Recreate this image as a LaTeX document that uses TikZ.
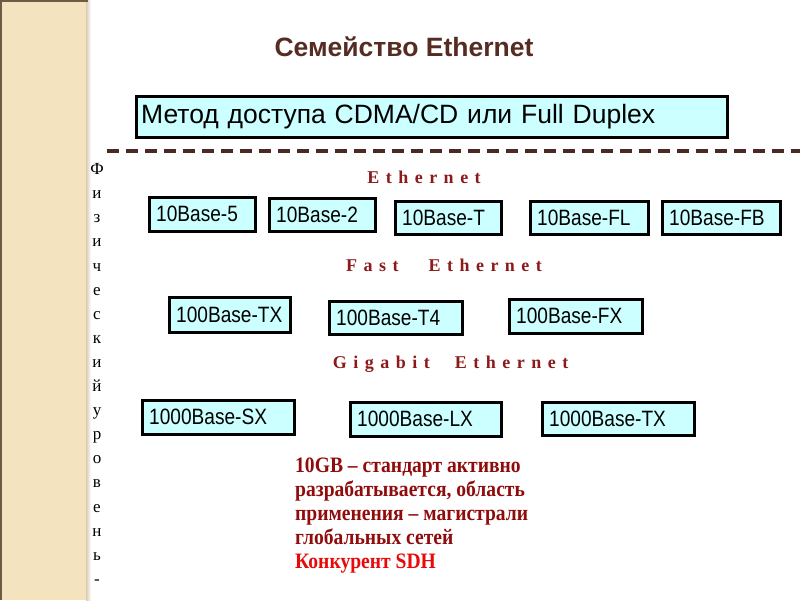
\documentclass[tikz,border=0pt]{standalone}
\usepackage{fontspec}
\setmainfont{Liberation Serif}
\setsansfont{Liberation Sans}
\newfontfamily\boxfont[FakeStretch=0.86]{Liberation Sans}
\newfontfamily\notefont[FakeStretch=0.89]{Liberation Serif}
\usetikzlibrary{calc}
\definecolor{boxcyan}{HTML}{CCFFFF}
\definecolor{titlebrown}{HTML}{552B22}
\definecolor{dashbrown}{HTML}{4A2A22}
\definecolor{headred}{HTML}{8C1A1A}
\definecolor{notered}{HTML}{900C0C}
\definecolor{brightred}{HTML}{E80A0A}
\definecolor{stripbeige}{HTML}{F3E3BF}
\definecolor{stripedge}{HTML}{6E5B45}
\definecolor{stripshade}{HTML}{D9CCB0}
\newcommand{\widespaced}[1]{{\spaceskip=6.5pt\relax #1}}
\tikzset{unit/.style 2 args={draw, line width=3.2pt, fill=boxcyan, anchor=north west,
    inner xsep=7pt, inner ysep=0pt, text width=#1pt-14pt, minimum height=#2pt,
    font=\boxfont\fontsize{22.2}{24}\selectfont},
  family/.style={text=headred, font=\bfseries\fontsize{18}{20}\selectfont},
  vert/.style={anchor=base, font=\fontsize{17}{20}\selectfont}}

\begin{document}
\begin{tikzpicture}[x=1pt, y=-1pt]
  \useasboundingbox (0,0) rectangle (800,600);
  % left strip
  \fill[stripbeige] (0,0) rectangle (88,600);
  \shade[left color=stripshade, right color=white] (86,0) rectangle (91,600);
  \draw[stripedge, line width=1.5pt] (0.75,600) -- (0.75,0.75) -- (88,0.75);
  % title and access method
  \node[text=titlebrown, font=\sffamily\bfseries\fontsize{26.5}{30}\selectfont] (title) at (404,47) {Семейство Ethernet};
  \node[unit={591}{41}, inner xsep=5pt, text width=581pt, font=\sffamily\fontsize{26.5}{30}\selectfont] (mac) at (134.6,94.6) {Метод доступа CDMA/CD или Full Duplex};
  \draw[dashbrown, line width=3.5pt, dash pattern=on 12pt off 7pt] (107,151) -- (800,151);
  % physical layer, vertical
  \foreach \ch [count=\k] in {Ф,и,з,и,ч,е,с,к,и,й,у,р,о,в,е,н,ь,-}
    \node[vert] (v\k) at (97,150.5+24.1*\k) {\ch};
  % Ethernet
  \node[family] (eth) at (424,177) {\widespaced{E t h e r n e t}};
  \node[unit={106}{34}] (b5) at (147.6,195.6) {10Base-5};
  \node[unit={106}{33}] (b2) at (267.6,196.6) {10Base-2};
  \node[unit={106}{33}] (bT) at (393.6,199.6) {10Base-T};
  \node[unit={118}{33}] (bFL) at (528.6,199.6) {10Base-FL};
  \node[unit={118}{33}] (bFB) at (660.6,199.6) {10Base-FB};
  % Fast Ethernet
  \node[family] (fast) at (444,265) {\widespaced{F a s t \hspace{17pt} E t h e r n e t}};
  \node[unit={121}{35}] (fTX) at (167.6,295.6) {100Base-TX};
  \node[unit={133}{33}] (fT4) at (327.6,299.6) {100Base-T4};
  \node[unit={133}{34}] (fFX) at (507.6,297.6) {100Base-FX};
  % Gigabit Ethernet
  \node[family] (giga) at (450.5,364) {\widespaced{G i g a b i t \hspace{12pt} E t h e r n e t}};
  \node[unit={152}{34}] (gSX) at (140.6,398.6) {1000Base-SX};
  \node[unit={151}{34}] (gLX) at (348.6,400.6) {1000Base-LX};
  \node[unit={152}{33}] (gTX) at (540.6,400.6) {1000Base-TX};
  % 10GB note
  \node[anchor=north west, align=left, inner sep=0pt, text=notered,
    font=\notefont\bfseries\fontsize{22}{23.8}\selectfont] (note) at (295,458)
    {10GB – стандарт активно\\разрабатывается, область\\применения – магистрали\\глобальных сетей\\\textcolor{brightred}{Конкурент SDH}};
\end{tikzpicture}
\end{document}
